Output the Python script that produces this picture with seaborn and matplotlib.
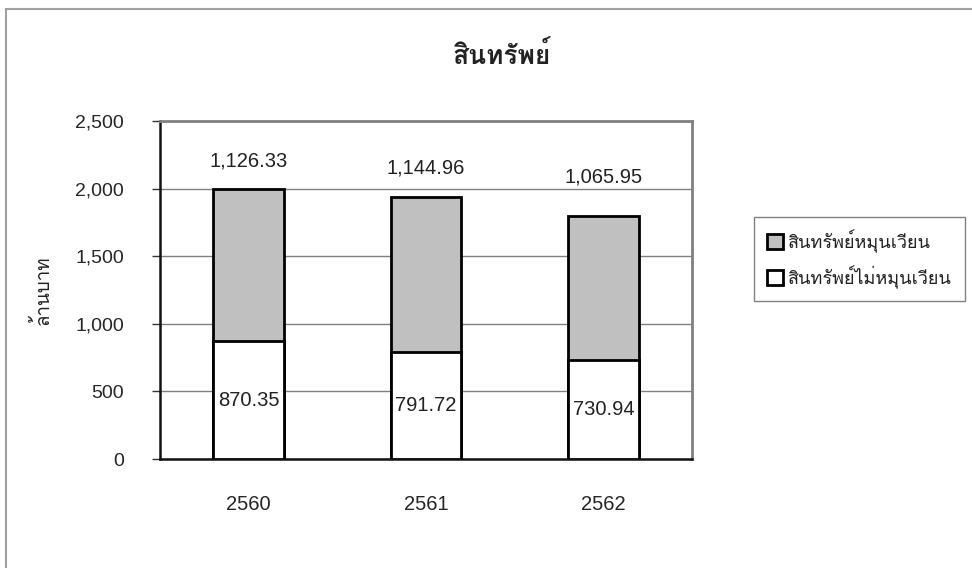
import matplotlib
matplotlib.use("Agg")
import matplotlib.pyplot as plt
from matplotlib.patches import Patch, Rectangle
import pandas as pd
import seaborn as sns

# ── DATA ──────────────────────────────────────────────────
years = ["2560", "2561", "2562"]
non_current = [870.35, 791.72, 730.94]      # สินทรัพย์ไม่หมุนเวียน
current = [1126.33, 1144.96, 1065.95]       # สินทรัพย์หมุนเวียน
y_ticks = [0, 500, 1000, 1500, 2000, 2500]

df = pd.DataFrame({"year": years, "non_current": non_current, "current": current})
df["total"] = df["non_current"] + df["current"]

# ── STYLE ─────────────────────────────────────────────────
sns.set_theme(style="white")
plt.rcParams["font.family"] = ["Liberation Sans", "Loma"]
plt.rcParams["text.color"] = "#222222"

fig = plt.figure(figsize=(9.72, 5.68), dpi=100)
ax = fig.add_axes([160 / 972, 1 - 459 / 568, 532 / 972, 338 / 568])

# outer chart border
fig.patches.append(Rectangle((6 / 972, -0.02), 1.0, 1 - 9 / 568 + 0.02,
                             transform=fig.transFigure, fill=False,
                             edgecolor="#a0a0a0", linewidth=1.5))

# gridlines
for t in y_ticks:
    ax.axhline(t, color="#808080", linewidth=1, zorder=0)

# stacked bars: total (grey) first, non-current (white) on top of it
sns.barplot(data=df, x="year", y="total", color="#c0c0c0", width=0.4,
            edgecolor="black", linewidth=2, saturation=1, ax=ax, zorder=2)
sns.barplot(data=df, x="year", y="non_current", color="white", width=0.4,
            edgecolor="black", linewidth=2, saturation=1, ax=ax, zorder=3)

# value labels
top_offsets = [28, 29, 39]  # px above the bar top
for i, row in df.iterrows():
    ax.annotate(f"{row['current']:,.2f}", (i, row["total"]),
                xytext=(0, top_offsets[i] * 0.72), textcoords="offset points",
                ha="center", va="center", fontsize=14.5)
    ax.text(i, row["non_current"] / 2, f"{row['non_current']:,.2f}",
            ha="center", va="center", fontsize=14.5, zorder=4)

ax.set_xlim(-0.5, 2.5)
ax.set_ylim(0, 2500)
ax.set_yticks(y_ticks)
ax.set_yticklabels([f"{t:,}" for t in y_ticks], fontsize=14)
ax.set_xticks([-0.5, 0.5, 1.5, 2.5], minor=True)
ax.tick_params(axis="x", which="major", length=0, pad=26, labelsize=14.5)
ax.tick_params(axis="x", which="minor", length=7, width=1, color="#333333",
               direction="out")
ax.tick_params(axis="y", which="major", length=6, width=1, color="#333333",
               direction="out", left=True, pad=20)
ax.set_xlabel("")
ax.set_ylabel("")

for s in ["left", "bottom"]:
    ax.spines[s].set_color("#111111")
    ax.spines[s].set_linewidth(1.8)
for s in ["top", "right"]:
    ax.spines[s].set_color("#808080")
    ax.spines[s].set_linewidth(2)

# titles
fig.text(502 / 972, 1 - 55 / 568, "สินทรัพย์", ha="center", va="center",
         fontsize=19, fontweight="bold")
fig.text(42 / 972, 1 - 290 / 568, "ล้านบาท", ha="center", va="center",
         rotation=90, fontsize=13.5)

# legend
handles = [Patch(facecolor="#c0c0c0", edgecolor="black", linewidth=2,
                 label="สินทรัพย์หมุนเวียน"),
           Patch(facecolor="white", edgecolor="black", linewidth=2,
                 label="สินทรัพย์ไม่หมุนเวียน"),]
leg = fig.legend(handles=handles, loc="center left",
                 bbox_to_anchor=(754 / 972, 1 - 259 / 568), fontsize=13,
                 frameon=True, fancybox=False, edgecolor="#606060",
                 handlelength=0.9, handleheight=0.9, handletextpad=0.3,
                 labelspacing=0.7, borderpad=0.7, borderaxespad=0)
leg.get_frame().set_linewidth(1)

fig.savefig("out.png", dpi=100)
